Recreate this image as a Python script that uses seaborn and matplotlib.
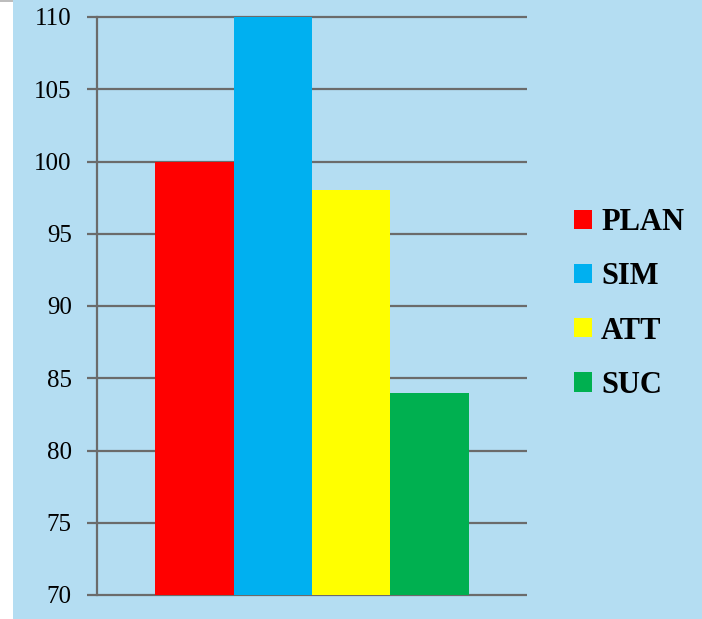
import matplotlib.pyplot as plt
import matplotlib.patches as mpatches
import pandas as pd
import seaborn as sns

sns.set_style("white")
plt.rcParams['font.family'] = ['Liberation Serif', 'DejaVu Serif']
plt.rcParams['text.color'] = 'black'
plt.rcParams['ytick.labelcolor'] = 'black'

# data
names = ['PLAN', 'SIM', 'ATT', 'SUC']
values = [100, 110, 98, 84]
colors = ['#ff0000', '#00b0f0', '#ffff00', '#00b050']
yticks = [70, 75, 80, 85, 90, 95, 100, 105, 110]

bg = '#b4ddf2'
line_col = '#6b6b6b'

df = pd.DataFrame({'name': names, 'value': values})

fig = plt.figure(figsize=(7.02, 6.19), dpi=100, facecolor='white')
fig.patches.append(mpatches.Rectangle((13 / 702, 0), 1, 1, transform=fig.transFigure,
                                      facecolor=bg, edgecolor='none', zorder=-10))
# small grey mark in the top-left corner
fig.patches.append(mpatches.Rectangle((0, 1 - 2 / 619), 13 / 702, 2 / 619, transform=fig.transFigure,
                                      facecolor='#bdbdbd', edgecolor='none', zorder=-10))
ax = fig.add_axes([97 / 702, 1 - 595 / 619, 430 / 702, 578 / 619])
ax.set_facecolor(bg)

sns.barplot(data=df, x='name', y='value', hue='name', palette=colors,
            width=1, legend=False, saturation=1, linewidth=0, ax=ax, zorder=3)

ax.set_ylim(70, 110)
ax.set_xlim(-1.239, 4.239)
ax.set_yticks(yticks)
ax.set_yticklabels([str(t) for t in yticks], fontsize=18, color='black')
ax.set_xticks([])
ax.set_xlabel('')
ax.set_ylabel('')

ax.hlines(yticks, -1.239, 4.239, colors=line_col, linewidth=1.6, clip_on=False, zorder=1)
ax.tick_params(axis='y', length=7.2, width=1.6, color=line_col, pad=11, left=True)

for s in ['top', 'right', 'bottom']:
    ax.spines[s].set_visible(False)
ax.spines['left'].set_color(line_col)
ax.spines['left'].set_linewidth(1.6)
ax.spines['left'].set_zorder(2)

handles = [mpatches.Patch(facecolor=c, edgecolor='none', label=n) for n, c in zip(names, colors)]
leg = fig.legend(handles=handles, loc='center left', bbox_to_anchor=(546 / 702, 1 - 304 / 619),
                 frameon=False, prop={'size': 22, 'weight': 'bold'},
                 handlelength=0.6, handleheight=0.6, handletextpad=0.3, labelspacing=0.82)
for t in leg.get_texts():
    t.set_color('black')

fig.savefig('out.png', dpi=100, facecolor='white')
